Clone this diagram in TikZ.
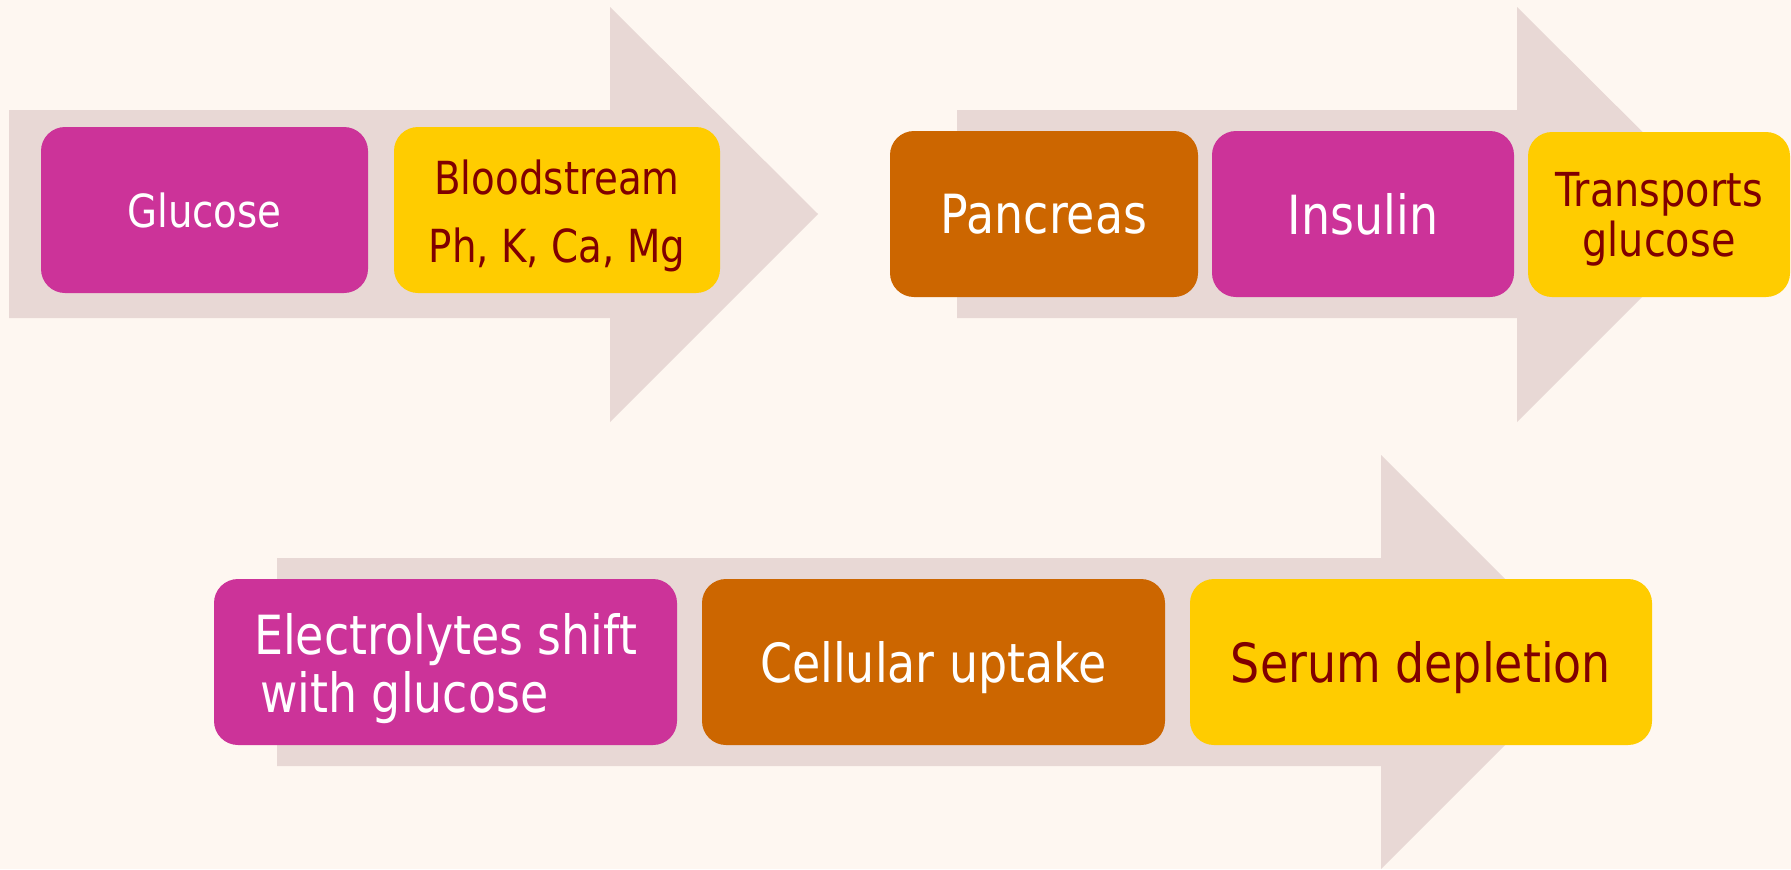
\documentclass[tikz,border=0pt]{standalone}
\usepackage{fontspec}
\setmainfont{DejaVu Sans}[FakeStretch=0.85]
\definecolor{bgc}{HTML}{FEF7F1}
\definecolor{arrc}{HTML}{E8D8D5}
\definecolor{magc}{HTML}{CC3399}
\definecolor{orac}{HTML}{CC6600}
\definecolor{yelc}{HTML}{FFCC00}
\definecolor{redc}{HTML}{800000}
\newcommand\lowr[2]{\raisebox{-#1}[\height][\depth]{#2}}
\tikzset{
  stepbox/.style={rounded corners=12pt, inner sep=0pt, align=center},
  bigtxt/.style={font=\fontsize{27}{28.5}\selectfont},
  smalltxt/.style={font=\fontsize{22.8}{34}\selectfont},
  magbox/.style={stepbox, fill=magc, text=white},
  orabox/.style={stepbox, fill=orac, text=white},
  yelbox/.style={stepbox, fill=yelc, text=redc},
  flow/.style={fill=arrc},
}
\begin{document}
\begin{tikzpicture}[x=0.5pt,y=-0.5pt]
\fill[bgc] (0,0) rectangle (1791,869);
\useasboundingbox (0,0) rectangle (1791,869);
% arrows
\fill[flow] (9,110) -- (610,110) -- (610,7) -- (818,214) -- (610,422) -- (610,318) -- (9,318) -- cycle;
\fill[flow] (957,110) -- (1517,110) -- (1517,7) -- (1725,214) -- (1517,422) -- (1517,318) -- (957,318) -- cycle;
\fill[flow] (277,558) -- (1381,558) -- (1381,455) -- (1588,662) -- (1381,869) -- (1381,766) -- (277,766) -- cycle;
% row 1
\node[magbox, smalltxt, minimum width=163.5pt, minimum height=83pt] (glu) at (204.5,210) {Glucose};
\node[yelbox, smalltxt, minimum width=163pt, minimum height=83pt] (blo) at (557,210) {\lowr{2.3pt}{\begin{tabular}{@{}c@{}}Bloodstream\\Ph, K, Ca, Mg\end{tabular}}};
\node[orabox, bigtxt, minimum width=154pt, minimum height=83pt] (pan) at (1044,214) {Pancreas};
\node[magbox, bigtxt, minimum width=151pt, minimum height=83pt] (ins) at (1363,214) {Insulin};
\node[yelbox, font=\fontsize{23.4}{24}\selectfont, minimum width=131pt, minimum height=82.5pt] (tra) at (1659,214.5) {\lowr{3.4pt}{\begin{tabular}{@{}c@{}}Transports\\glucose\end{tabular}}};
% row 2
\node[magbox, bigtxt, minimum width=231.5pt, minimum height=83pt] (ele) at (445.5,662) {\lowr{4.6pt}{\begin{tabular}{@{}l@{}}Electrolytes shift\\\hspace{3pt}with glucose\end{tabular}}};
\node[orabox, bigtxt, minimum width=231.5pt, minimum height=83pt] (cel) at (933.5,662) {\lowr{2.9pt}{Cellular uptake}};
\node[yelbox, bigtxt, minimum width=231pt, minimum height=83pt] (ser) at (1421,662) {\lowr{2.9pt}{Serum depletion}};
\end{tikzpicture}
\end{document}
